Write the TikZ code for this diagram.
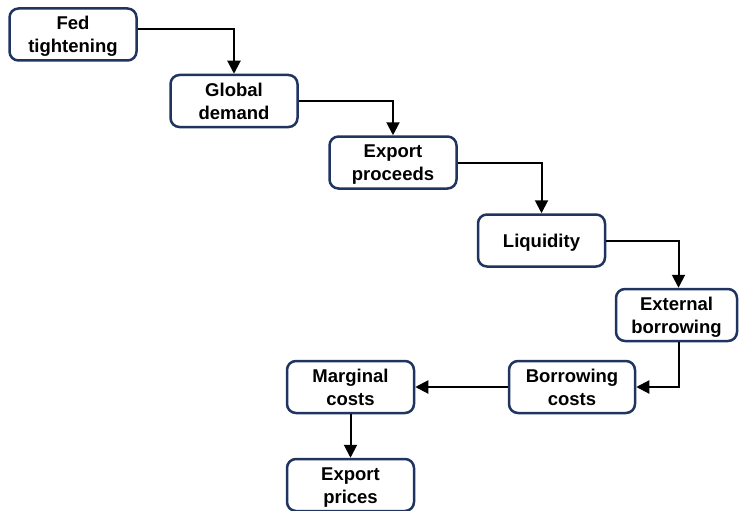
\documentclass[tikz,border=0pt]{standalone}
\usepackage{fontspec}
\setmainfont{Liberation Sans}
\usetikzlibrary{arrows.meta}
\definecolor{boxline}{HTML}{1F3460}
\newcommand{\boxtxt}[1]{\raisebox{-2pt}[\height][\depth]{\begin{tabular}{@{}c@{}}#1\end{tabular}}}
\tikzset{
  flowbox/.style={draw=boxline, line width=2.5pt, rounded corners=9pt, fill=white,
    minimum width=127pt, minimum height=52pt, inner sep=0pt, align=center,
    font=\fontsize{18.5}{23}\selectfont\bfseries},
  flowarrow/.style={line width=2pt, -{Triangle[length=13pt,width=13pt]}}
}
\begin{document}
\begin{tikzpicture}[x=1pt,y=-1pt]
\useasboundingbox (0,0) rectangle (739,511);
\node[flowbox] (fed) at (73,34.5) {\boxtxt{Fed\\tightening}};
\node[flowbox] (glob) at (234,101) {\boxtxt{Global\\demand}};
\node[flowbox] (expp) at (393,162.5) {\boxtxt{Export\\proceeds}};
\node[flowbox] (liq) at (541.5,240.5) {\boxtxt{Liquidity}};
\node[flowbox, minimum width=121pt] (ext) at (676.5,315) {\boxtxt{External\\borrowing}};
\node[flowbox, minimum width=126pt] (bor) at (572,387) {\boxtxt{Borrowing\\costs}};
\node[flowbox] (marg) at (350.5,387) {\boxtxt{Marginal\\costs}};
\node[flowbox] (epr) at (350.5,485) {\boxtxt{Export\\prices}};
\draw[flowarrow] ([yshift=5pt]fed.east) -| (glob.north);
\draw[flowarrow] (glob.east) -| (expp.north);
\draw[flowarrow] (expp.east) -| (liq.north);
\draw[flowarrow] (liq.east) -| ([xshift=2pt]ext.north);
\draw[flowarrow] ([xshift=2pt]ext.south) |- (bor.east);
\draw[flowarrow] (bor.west) -- (marg.east);
\draw[flowarrow] (marg.south) -- (epr.north);
\end{tikzpicture}
\end{document}
